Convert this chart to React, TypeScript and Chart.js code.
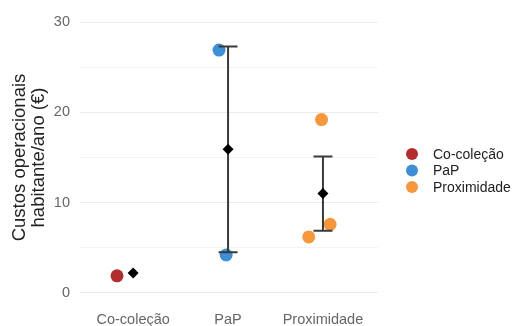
import React, { useEffect, useRef } from 'react';
import { Chart, registerables } from 'chart.js';

Chart.register(...registerables);

const categories = ['Co-coleção', 'PaP', 'Proximidade'];
const seriesNames = ['Co-coleção', 'PaP', 'Proximidade'];
const seriesColors = ['#b22e2e', '#3f8fd6', '#f5973c'];

const coColecaoValues = [1.9];
const coColecaoJitter = [-0.17];
const papValues = [26.9, 4.2];
const papJitter = [-0.095, -0.02];
const proximidadeValues = [19.2, 7.6, 6.2];
const proximidadeJitter = [-0.015, 0.075, -0.15];

const meanValues = [2.2, 15.9, 11.0];
const errorLow: (number | null)[] = [null, 4.5, 6.9];
const errorHigh: (number | null)[] = [null, 27.3, 15.1];

const yTicks = [0, 5, 10, 15, 20, 25, 30];
const yTitle = ['Custos operacionais', 'habitante/ano (€)'];

const FONT = "'Liberation Sans', Arial, sans-serif";

const toPoints = (catIdx: number, values: number[], jitter: number[]) =>
  values.map((v, i) => ({ x: catIdx + 1 + jitter[i], y: v }));

const errorBarPlugin = {
  id: 'errorBars',
  beforeDatasetDraw(chart: any, args: any) {
    if (args.index !== 0) return;
    const { ctx, scales } = chart;
    const xs = scales.x;
    const ys = scales.y;
    ctx.save();
    ctx.strokeStyle = '#3a3a3a';
    ctx.lineWidth = 2;
    categories.forEach((_, i) => {
      const lo = errorLow[i];
      const hi = errorHigh[i];
      if (lo == null || hi == null) return;
      const cx = xs.getPixelForValue(i + 1);
      const cl = xs.getPixelForValue(i + 1 - 0.1);
      const cr = xs.getPixelForValue(i + 1 + 0.1);
      const yl = ys.getPixelForValue(lo);
      const yh = ys.getPixelForValue(hi);
      ctx.beginPath();
      ctx.moveTo(cx, yl);
      ctx.lineTo(cx, yh);
      ctx.moveTo(cl, yl);
      ctx.lineTo(cr, yl);
      ctx.moveTo(cl, yh);
      ctx.lineTo(cr, yh);
      ctx.stroke();
    });
    ctx.restore();
  },
};

const legendPlugin = {
  id: 'sideLegend',
  afterDraw(chart: any) {
    const { ctx, chartArea } = chart;
    const cy = (chartArea.top + chartArea.bottom) / 2 - 3.5;
    const cx = chartArea.right + 34;
    ctx.save();
    ctx.font = `14px ${FONT}`;
    ctx.textBaseline = 'middle';
    ctx.textAlign = 'left';
    seriesNames.forEach((name, i) => {
      const y = cy + i * 16.5;
      ctx.fillStyle = seriesColors[i];
      ctx.beginPath();
      ctx.arc(cx, y, 6, 0, Math.PI * 2);
      ctx.fill();
      ctx.fillStyle = '#222';
      ctx.fillText(name, cx + 21, y + 1);
    });
    ctx.restore();
  },
};

export default function App() {
  const ref = useRef<HTMLCanvasElement | null>(null);
  useEffect(() => {
    if (!ref.current) return;
    const pointDs = (i: number, data: any[]) => ({
      type: 'scatter' as const,
      label: seriesNames[i],
      data,
      backgroundColor: seriesColors[i],
      borderColor: seriesColors[i],
      borderWidth: 0,
      pointRadius: 6.5,
      pointHoverRadius: 6.5,
    });
    const chart = new Chart(ref.current, {
      type: 'scatter',
      data: {
        datasets: [
          {
            label: 'Média',
            data: meanValues.map((v, i) => ({ x: i + 1, y: v })),
            backgroundColor: '#000',
            borderColor: '#000',
            borderWidth: 0,
            pointStyle: 'rectRot',
            pointRadius: 5.5,
            pointHoverRadius: 5.5,
          },
          pointDs(0, toPoints(0, coColecaoValues, coColecaoJitter)),
          pointDs(1, toPoints(1, papValues, papJitter)),
          pointDs(2, toPoints(2, proximidadeValues, proximidadeJitter)),
        ],
      },
      options: {
        animation: false,
        responsive: false,
        layout: { padding: { left: 0, right: 136, top: 8.5, bottom: 0 } },
        plugins: { legend: { display: false }, tooltip: { enabled: false } },
        scales: {
          x: {
            type: 'linear',
            min: 0.44,
            max: 3.58,
            afterBuildTicks: (scale: any) => {
              scale.ticks = categories.map((_, i) => ({ value: i + 1 }));
            },
            afterFit: (scale: any) => {
              scale.height = 19.5;
              scale.paddingLeft = 0;
              scale.paddingRight = 0;
            },
            grid: { display: false, drawTicks: false },
            border: { display: false },
            ticks: {
              padding: 5,
              color: '#666',
              font: { family: FONT, size: 14.5 },
              maxRotation: 0,
              autoSkip: false,
              callback: (v: any) => categories[Math.round(Number(v)) - 1] ?? '',
            },
          },
          y: {
            type: 'linear',
            min: -1.5,
            max: 31.5,
            afterBuildTicks: (scale: any) => {
              scale.ticks = yTicks.map((v) => ({ value: v }));
            },
            afterFit: (scale: any) => {
              scale.width = 80;
              scale.paddingTop = 0;
              scale.paddingBottom = 0;
            },
            grid: {
              drawTicks: false,
              color: (c: any) => (c.tick && c.tick.value % 10 === 0 ? '#ebebeb' : '#f4f4f4'),
              lineWidth: 1,
            },
            border: { display: false },
            ticks: {
              padding: 10,
              color: '#666',
              font: { family: FONT, size: 14.5 },
              autoSkip: false,
              callback: (v: any) => (Number(v) % 10 === 0 ? String(v) : ''),
            },
            title: {
              display: true,
              text: yTitle,
              color: '#222',
              font: { family: FONT, size: 18.5, lineHeight: 1.05 },
              padding: { top: 10, bottom: 0 },
            },
          },
        },
      },
      plugins: [errorBarPlugin, legendPlugin],
    });
    return () => chart.destroy();
  }, []);
  return (
    <div style={{ position: 'fixed', left: 0, top: 0, width: 514, height: 326, background: '#fff' }}>
      <canvas ref={ref} width={514} height={326} style={{ width: 514, height: 326, display: 'block' }} />
    </div>
  );
}
